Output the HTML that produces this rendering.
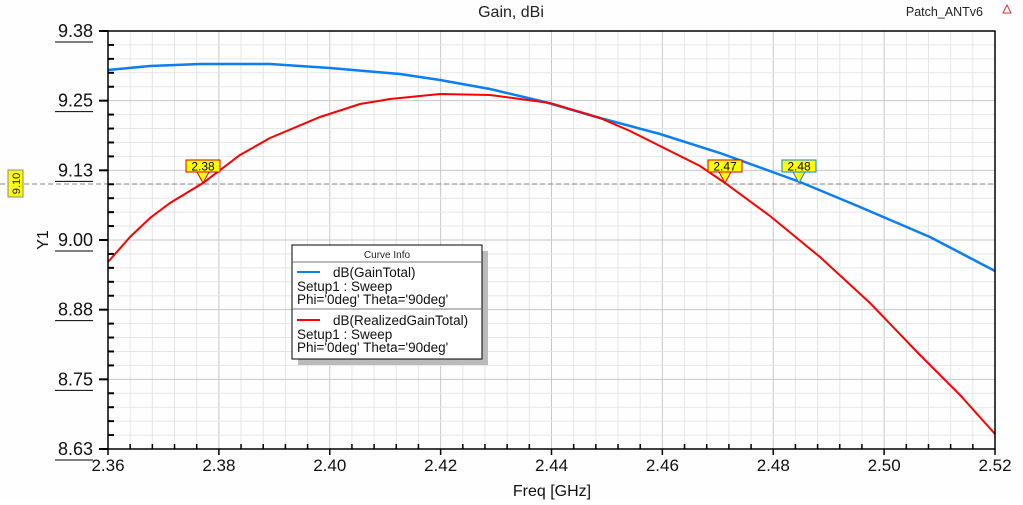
<!DOCTYPE html>
<html><head><meta charset="utf-8"><style>
body{margin:0;background:#fff;width:1023px;height:500px;overflow:hidden;font-family:"Liberation Sans",sans-serif}
</style></head><body>
<svg id="s" width="1023" height="500" xmlns="http://www.w3.org/2000/svg" font-family="Liberation Sans, sans-serif">
<rect width="1023" height="500" fill="#fdfefd"/>
<g id="grid"></g>
<line x1="108" y1="184" x2="995" y2="184" stroke="#888" stroke-dasharray="5,3" stroke-width="1"/>
<line x1="0" y1="184" x2="108" y2="184" stroke="#888" stroke-dasharray="5,3" stroke-width="1"/>
<polyline fill="none" stroke="#0a7ff0" stroke-width="2.5" points="108,70 150,66 200,64 270,64 330,68 400,74 440,80 490,89 545,102 600,118 660,134 720,153 800,182 860,207 930,237 995,271"/>
<polyline fill="none" stroke="#f00" stroke-width="2" points="108,262 130,237 150,218 170,203 203,183 240,155 270,138 320,117 360,104 390,99 440,94 490,95 550,103 600,118 630,131 660,146 700,166 725,183 770,216 820,257 870,303 920,355 960,395 995,434"/>
<rect x="108" y="31" width="887" height="418" fill="none" stroke="#000" stroke-width="1.5"/>
<g id="ticks"></g>
<text x="511" y="17" font-size="16" text-anchor="middle" fill="#222">Gain, dBi</text>
<text x="983" y="16" font-size="12.5" text-anchor="end" fill="#222">Patch_ANTv6</text>
<polygon points="1007,5 1003,13 1011,13" fill="none" stroke="#d33" stroke-width="1"/>
<text x="552" y="496" font-size="16" text-anchor="middle" fill="#111">Freq [GHz]</text>
<text transform="translate(48,240) rotate(-90)" font-size="16" text-anchor="middle" fill="#111">Y1</text>
<g font-size="12" text-anchor="middle">
<rect x="186" y="160" width="34" height="12" fill="#ff0" stroke="#d00"/><polygon points="197,172 209,172 203,183" fill="#ff0" stroke="#d00"/><text x="203" y="170.5">2.38</text>
<rect x="708" y="160" width="34" height="12" fill="#ff0" stroke="#d00"/><polygon points="719,172 731,172 725,183" fill="#ff0" stroke="#d00"/><text x="725" y="170.5">2.47</text>
<rect x="782" y="160" width="34" height="12" fill="#ff0" stroke="#0a7ff0"/><polygon points="793,172 805,172 799,183" fill="#ff0" stroke="#0a7ff0"/><text x="799" y="170.5">2.48</text>
</g>
<rect x="8" y="170" width="15" height="27" fill="#ff0" stroke="#888"/>
<text transform="translate(20,183.5) rotate(-90)" font-size="11" text-anchor="middle" fill="#111">9.10</text>
<rect x="298" y="251" width="190" height="114" fill="#bbb"/>
<rect x="292" y="245" width="190" height="114" fill="#fff" stroke="#000"/>
<text x="387" y="258" font-size="10" text-anchor="middle" fill="#222">Curve Info</text>
<line x1="292" y1="262" x2="482" y2="262" stroke="#777"/>
<line x1="297" y1="272" x2="320" y2="272" stroke="#0a7ff0" stroke-width="2"/>
<text font-size="13.5" fill="#111"><tspan x="333" y="277">dB(GainTotal)</tspan><tspan x="297" y="291">Setup1 : Sweep</tspan><tspan x="297" y="304">Phi='0deg' Theta='90deg'</tspan></text>
<line x1="292" y1="309" x2="482" y2="309" stroke="#777"/>
<line x1="297" y1="320" x2="320" y2="320" stroke="#f00" stroke-width="2"/>
<text font-size="13.5" fill="#111"><tspan x="333" y="325">dB(RealizedGainTotal)</tspan><tspan x="297" y="339">Setup1 : Sweep</tspan><tspan x="297" y="352">Phi='0deg' Theta='90deg'</tspan></text>
</svg>
<script>
var ns="http://www.w3.org/2000/svg",g=document.getElementById("grid"),t=document.getElementById("ticks");
function L(p,x1,y1,x2,y2,c,w){var l=document.createElementNS(ns,"line");l.setAttribute("x1",x1);l.setAttribute("y1",y1);l.setAttribute("x2",x2);l.setAttribute("y2",y2);l.setAttribute("stroke",c);l.setAttribute("stroke-width",w||1);p.appendChild(l);}
function T(x,y,s,a,sz){var e=document.createElementNS(ns,"text");e.setAttribute("x",x);e.setAttribute("y",y);e.setAttribute("text-anchor",a);e.setAttribute("font-size",sz);e.setAttribute("fill","#111");e.textContent=s;t.appendChild(e);}
var X0=108,X1=995,Y0=31,Y1=449;
for(var i=0;i<=40;i++){var x=X0+(X1-X0)*i/40;L(g,x,Y0,x,Y1,i%5==0?"#cbc6cf":"#e6e6e6");L(t,x,Y1,x,Y1-(i%5==0?0:5),"#000",1.5);}
for(var j=0;j<=30;j++){var y=Y0+(Y1-Y0)*j/30;L(g,X0,y,X1,y,j%5==0?"#cbc6cf":"#e6e6e6");L(t,X0,y,X0+(j%5==0?0:6),y,"#000",2);if(j%5==0)L(t,X0-9,y,X0,y,"#000",2);}
var yl=["9.38","9.25","9.13","9.00","8.88","8.75","8.63"];
for(var k=0;k<7;k++){var y=Y0+(Y1-Y0)*k/6;T(93,y+6,yl[k],"end",18);L(t,55,y+11,93,y+11,"#000",1);}
var xl=["2.36","2.38","2.40","2.42","2.44","2.46","2.48","2.50","2.52"];
for(var k=0;k<9;k++){var x=X0+(X1-X0)*k/8;T(x,Y1+22,xl[k],"middle",17);L(t,x,Y1,x,Y1+6,"#000",1.5);}
</script>
</body></html>
